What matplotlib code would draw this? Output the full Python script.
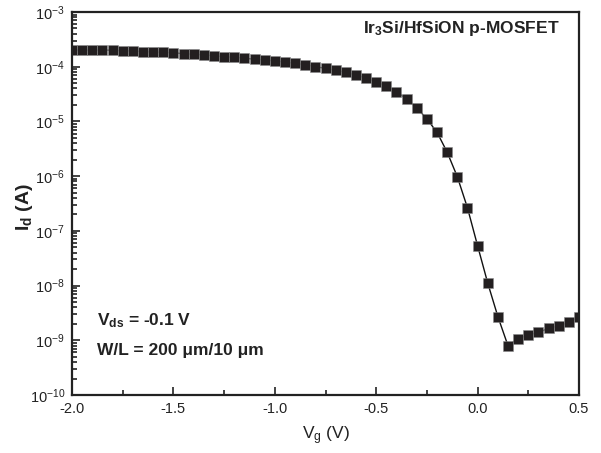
import numpy as np
import matplotlib
matplotlib.use("Agg")
import matplotlib.pyplot as plt
from matplotlib.ticker import LogLocator, MultipleLocator, FixedLocator, NullFormatter

plt.rcParams['font.family'] = ['Liberation Sans', 'DejaVu Sans']
plt.rcParams['mathtext.fontset'] = 'custom'
plt.rcParams['mathtext.rm'] = 'Liberation Sans'
plt.rcParams['mathtext.it'] = 'Liberation Sans:italic'
plt.rcParams['mathtext.bf'] = 'Liberation Sans:bold'
plt.rcParams['axes.unicode_minus'] = False

# Gate voltage (V)
vg = [-2.00, -1.95, -1.90, -1.85, -1.80, -1.75, -1.70, -1.65, -1.60, -1.55,
      -1.50, -1.45, -1.40, -1.35, -1.30, -1.25, -1.20, -1.15, -1.10, -1.05,
      -1.00, -0.95, -0.90, -0.85, -0.80, -0.75, -0.70, -0.65, -0.60, -0.55,
      -0.50, -0.45, -0.40, -0.35, -0.30, -0.25, -0.20, -0.15, -0.10, -0.05,
      0.00, 0.05, 0.10, 0.15, 0.20, 0.25, 0.30, 0.35, 0.40, 0.45, 0.50]
# Drain current (A)
i_d = [2.02e-4, 2.02e-4, 2.02e-4, 2.02e-4, 2.00e-4, 1.96e-4, 1.94e-4, 1.88e-4, 1.86e-4, 1.83e-4,
       1.80e-4, 1.73e-4, 1.69e-4, 1.64e-4, 1.59e-4, 1.52e-4, 1.49e-4, 1.43e-4, 1.37e-4, 1.34e-4,
       1.27e-4, 1.22e-4, 1.15e-4, 1.09e-4, 1.00e-4, 9.35e-5, 8.59e-5, 7.91e-5, 7.05e-5, 6.21e-5,
       5.32e-5, 4.44e-5, 3.49e-5, 2.57e-5, 1.78e-5, 1.11e-5, 6.32e-6, 2.74e-6, 9.75e-7, 2.64e-7,
       5.33e-8, 1.11e-8, 2.71e-9, 7.93e-10, 1.07e-9, 1.24e-9, 1.40e-9, 1.65e-9, 1.83e-9, 2.12e-9,
       2.69e-9]

x_ticks = [-2.0, -1.5, -1.0, -0.5, 0.0, 0.5]
x_tick_labels = ['-2.0', '-1.5', '-1.0', '-0.5', '0.0', '0.5']
y_exps = [-10, -9, -8, -7, -6, -5, -4, -3]

fig = plt.figure(figsize=(6.01, 4.53), dpi=100)
ax = fig.add_axes([72/601, 1-395/453, (579-72)/601, (395-12)/453])

ax.plot(vg, i_d, color='#111111', lw=1.0, marker='s', ms=6.6,
        mfc='#231f20', mec='#8a8a8a', mew=0.4)

ax.set_yscale('log')
ax.set_xlim(-2.0, 0.5)
ax.set_ylim(1e-10, 1e-3)

ax.set_xticks(x_ticks)
ax.set_xticklabels(x_tick_labels)
ax.xaxis.set_minor_locator(MultipleLocator(0.25))

ax.yaxis.set_major_locator(FixedLocator([10.0**e for e in y_exps]))
ax.set_yticklabels([r'$\mathregular{10^{%d}}$' % e for e in y_exps])
ax.yaxis.set_minor_locator(LogLocator(base=10, subs=np.arange(2, 10), numticks=20))
ax.yaxis.set_minor_formatter(NullFormatter())

ax.tick_params(which='both', direction='in', top=False, right=False, width=1.2, colors='#222222', labelcolor='#222222')
ax.tick_params(which='major', length=6, labelsize=10.5, pad=5)
ax.tick_params(which='minor', length=3.5)

for s in ax.spines.values():
    s.set_linewidth(1.6)
    s.set_color('#222222')

ax.set_xlabel(r'V$_\mathregular{g}$ (V)', fontsize=12.5, color='#222222', labelpad=6)
ax.set_ylabel(r'I$_\mathbf{d}$ (A)', fontsize=14, fontweight='bold', color='#222222')
ax.yaxis.set_label_coords(-0.072, 0.49)

ax.text(0.962, 0.944, r'Ir$_\mathbf{3}$Si/HfSiON p-MOSFET', transform=ax.transAxes,
        ha='right', va='baseline', fontsize=12.5, fontweight='bold', color='#222222')
ax.text(0.05, 0.183, r'V$_\mathbf{ds}$ = -0.1 V', transform=ax.transAxes,
        ha='left', va='baseline', fontsize=12.5, fontweight='bold', color='#222222')
ax.text(0.05, 0.104, 'W/L = 200 \u03bcm/10 \u03bcm', transform=ax.transAxes,
        ha='left', va='baseline', fontsize=12.5, fontweight='bold', color='#222222')

fig.savefig('out.png', dpi=100)
